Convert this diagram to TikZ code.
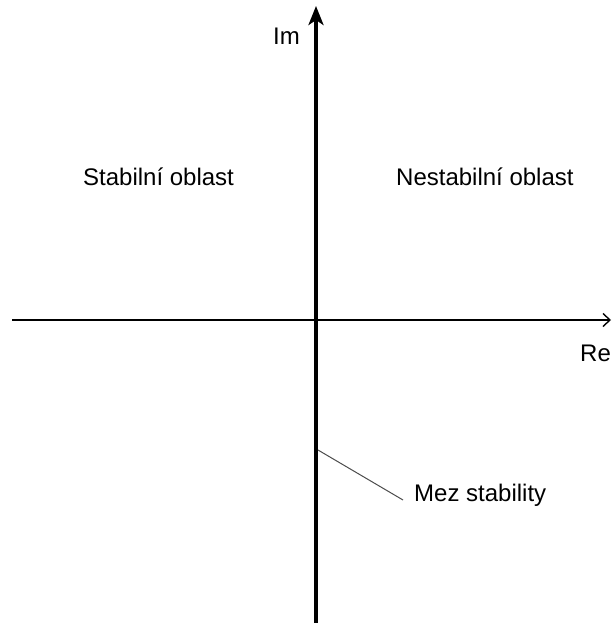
\documentclass[tikz,border=0pt]{standalone}
\usepackage{fontspec}
\setmainfont{Liberation Sans}
\usetikzlibrary{arrows.meta, positioning}

\begin{document}
\begin{tikzpicture}[
    x=1pt, y=-1pt,
    popis/.style={inner sep=0pt, anchor=base west, font=\fontsize{24}{28}\selectfont},
    osa/.style={line width=1.6pt},
    mezosa/.style={line width=4pt},
    vodic/.style={draw=black!70, line width=1pt}
]
    \useasboundingbox (0,0) rectangle (611,623);

    % osy
    \coordinate (imdole) at (316,623);
    \coordinate (imnahore) at (316,6);
    \coordinate (relevo) at (12,320);
    \coordinate (revpravo) at (611,320);
    \coordinate (bod) at (318,450);

    \draw[osa, -{Straight Barb[length=7pt, width=13pt, line width=1.4pt]}] (relevo) -- (revpravo);
    \draw[mezosa, -{Stealth[length=19pt, width=15pt, inset=5pt]}] (imdole) -- (imnahore);

    % popisky
    \node[popis] (im) at (273,45) {Im};
    \node[popis] (re) at (580,361) {Re};
    \node[popis] (stab) at (83,185) {Stabilní oblast};
    \node[popis] (nestab) at (396,185) {Nestabilní oblast};
    \node[popis] (mez) at (414,501) {Mez stability};

    \draw[vodic] (bod) -- ([xshift=-11pt, yshift=1pt]mez.base west);
\end{tikzpicture}
\end{document}
